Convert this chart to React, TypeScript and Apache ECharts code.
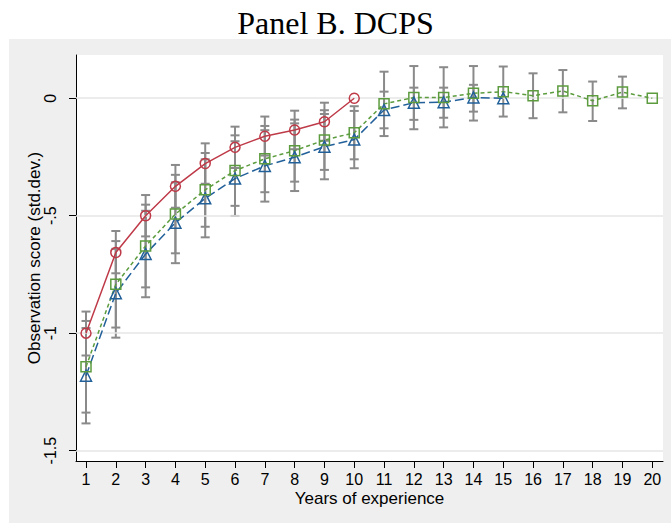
import React, { useEffect, useRef } from "react";
import * as echarts from "echarts";

// Years of experience (x)
const yearTicks = [1, 2, 3, 4, 5, 6, 7, 8, 9, 10, 11, 12, 13, 14, 15, 16, 17, 18, 19, 20];
const yTicks = [0, -0.5, -1, -1.5];

// Red circles, solid line (years 1-10)
const redYears = [1, 2, 3, 4, 5, 6, 7, 8, 9, 10];
const redValues = [-1.0, -0.657, -0.5, -0.375, -0.278, -0.209, -0.162, -0.135, -0.1, 0];
const redLow = [-1.095, -0.745, -0.588, -0.466, -0.364, -0.297, -0.244, -0.217, -0.181, null];
const redHigh = [-0.908, -0.565, -0.412, -0.284, -0.192, -0.121, -0.078, -0.053, -0.019, null];

// Green squares, short dash (years 1-20)
const greenYears = [1, 2, 3, 4, 5, 6, 7, 8, 9, 10, 11, 12, 13, 14, 15, 16, 17, 18, 19, 20];
const greenValues = [-1.143, -0.792, -0.629, -0.493, -0.39, -0.308, -0.258, -0.223, -0.178, -0.147, -0.024, 0.003, 0.003, 0.021, 0.028, 0.011, 0.031, -0.011, 0.026, 0];
const greenLow = [-1.338, -0.976, -0.805, -0.66, -0.547, -0.458, -0.4, -0.355, -0.305, -0.26, -0.161, -0.132, -0.124, -0.095, -0.078, -0.085, -0.06, -0.097, -0.043, null];
const greenHigh = [-0.948, -0.608, -0.453, -0.326, -0.233, -0.158, -0.118, -0.091, -0.051, -0.034, 0.113, 0.137, 0.132, 0.137, 0.135, 0.106, 0.12, 0.071, 0.092, null];

// Blue triangles, long dash (years 1-15)
const blueYears = [1, 2, 3, 4, 5, 6, 7, 8, 9, 10, 11, 12, 13, 14, 15];
const blueValues = [-1.181, -0.83, -0.663, -0.53, -0.426, -0.342, -0.288, -0.251, -0.206, -0.176, -0.05, -0.019, -0.017, 0.003, 0];
const blueLow = [-1.384, -1.019, -0.847, -0.702, -0.592, -0.501, -0.44, -0.395, -0.345, -0.298, -0.128, -0.092, -0.083, -0.057, null];
const blueHigh = [-0.978, -0.641, -0.479, -0.358, -0.26, -0.183, -0.136, -0.107, -0.067, -0.054, 0.028, 0.045, 0.045, 0.057, null];

const RED = "#BF3A48";
const GREEN = "#5C9C3E";
const BLUE = "#22609A";
const BAR = "#8A8A8A";
const FONT = "Liberation Sans, Arial, sans-serif";

function ciData(xs: number[], lo: (number | null)[], hi: (number | null)[]) {
  const out: number[][] = [];
  xs.forEach((x, i) => {
    if (lo[i] != null && hi[i] != null) out.push([x, lo[i] as number, hi[i] as number]);
  });
  return out;
}

function pts(xs: number[], vs: number[]) {
  return xs.map((x, i) => [x, vs[i]]);
}

const renderCap = (params: any, api: any) => {
  const x = api.value(0);
  const p1 = api.coord([x, api.value(1)]);
  const p2 = api.coord([x, api.value(2)]);
  const w = 4.5;
  const style = { stroke: BAR, lineWidth: 2 };
  return {
    type: "group",
    children: [
      { type: "line", shape: { x1: p1[0], y1: p1[1], x2: p2[0], y2: p2[1] }, style },
      { type: "line", shape: { x1: p1[0] - w, y1: p1[1], x2: p1[0] + w, y2: p1[1] }, style },
      { type: "line", shape: { x1: p2[0] - w, y1: p2[1], x2: p2[0] + w, y2: p2[1] }, style },
    ],
  };
};

export default function App() {
  const ref = useRef<HTMLDivElement>(null);
  useEffect(() => {
    if (!ref.current) return;
    const chart = echarts.init(ref.current, undefined, { renderer: "svg" });
    const lineSeries = (name: string, xs: number[], vs: number[], color: string, symbol: string, dash: any) => ({
      type: "line",
      name,
      data: pts(xs, vs),
      symbol,
      symbolSize: symbol === "triangle" ? 11 : 10,
      z: 5,
      lineStyle: { color, width: 1.5, type: dash },
      itemStyle: { color: "rgba(255,255,255,0)", borderColor: color, borderWidth: 1.5 },
      emphasis: { disabled: true },
    });
    chart.setOption({
      animation: false,
      backgroundColor: "#ffffff",
      title: {
        text: "Panel B. DCPS",
        left: "center",
        top: 2,
        textStyle: { fontFamily: "Liberation Serif, Times New Roman, serif", fontSize: 32, fontWeight: "normal", color: "#000" },
      },
      graphic: [
        { type: "rect", z: -10, silent: true, shape: { x: 9, y: 39, width: 662, height: 484 }, style: { fill: "#EFEFEF" } },
      ],
      grid: { left: 76, right: 8, top: 55, bottom: 62, show: true, backgroundColor: "#ffffff", borderWidth: 0 },
      xAxis: {
        type: "value",
        min: 0.664,
        max: 20.36,
        name: "Years of experience",
        nameLocation: "middle",
        nameGap: 29,
        nameMoveOverlap: false,
        nameTextStyle: { fontFamily: FONT, fontSize: 17, color: "#000" },
        axisLine: { show: true, onZero: false, lineStyle: { color: "#000", width: 1 } },
        axisTick: { show: true, length: 7, customValues: yearTicks, lineStyle: { color: "#000" } },
        axisLabel: { customValues: yearTicks, fontFamily: FONT, fontSize: 16, color: "#000", margin: 10 },
        splitLine: { show: false },
      },
      yAxis: {
        type: "value",
        min: -1.544,
        max: 0.184,
        name: "Observation score (std.dev.)",
        nameLocation: "middle",
        nameGap: 33,
        nameMoveOverlap: false,
        nameTextStyle: { fontFamily: FONT, fontSize: 17, color: "#000" },
        axisLine: { show: true, onZero: false, lineStyle: { color: "#000", width: 1 } },
        axisTick: { show: true, length: 7, customValues: yTicks, lineStyle: { color: "#000" } },
        axisLabel: {
          customValues: yTicks,
          rotate: 90,
          fontFamily: FONT,
          fontSize: 16,
          color: "#000",
          margin: 18,
          formatter: (v: number) => (v === 0 ? "0" : String(v).replace("0.", ".")),
        },
        splitLine: { show: false },
      },
      series: [
        {
          type: "line",
          data: [],
          silent: true,
          z: 1,
          markLine: {
            silent: true,
            symbol: "none",
            label: { show: false },
            lineStyle: { color: "#E6E6E6", width: 1.5, type: "solid" },
            data: yTicks.map((v) => ({ yAxis: v })),
          },
        },
        { type: "custom", renderItem: renderCap, data: ciData(redYears, redLow, redHigh), encode: { x: 0, y: [1, 2] }, z: 3, silent: true },
        { type: "custom", renderItem: renderCap, data: ciData(greenYears, greenLow, greenHigh), encode: { x: 0, y: [1, 2] }, z: 3, silent: true },
        { type: "custom", renderItem: renderCap, data: ciData(blueYears, blueLow, blueHigh), encode: { x: 0, y: [1, 2] }, z: 3, silent: true },
        lineSeries("red", redYears, redValues, RED, "circle", "solid"),
        lineSeries("blue", blueYears, blueValues, BLUE, "triangle", [9, 4]),
        lineSeries("green", greenYears, greenValues, GREEN, "rect", [4, 3]),
      ],
    });
    return () => chart.dispose();
  }, []);
  return (
    <div style={{ position: "fixed", left: 0, top: 0, width: 671, height: 523 }}>
      <div ref={ref} style={{ width: 671, height: 523 }} />
    </div>
  );
}
